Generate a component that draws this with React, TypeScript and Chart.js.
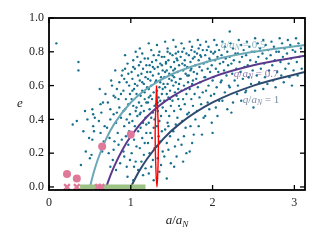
import React, { useEffect, useRef } from "react";
import { Chart, registerables } from "chart.js";

Chart.register(...registerables);

// ---------- data ----------
const xTicks = [0, 1, 2, 3];
const yTicks = [0, 0.2, 0.4, 0.6, 0.8, 1.0];
const xTickLabels = ["0", "1", "2", "3"];
const yTickLabels = ["0.0", "0.2", "0.4", "0.6", "0.8", "1.0"];

const sampleAE: number[][] = [
  [0.09,0.85],[0.36,0.74],[0.36,0.69],[0.29,0.37],[0.34,0.39],[0.39,0.13],
  [0.42,0.33],[0.47,0.40],[0.45,0.21],[0.49,0.29],[0.44,0.45],
  [0.50,0.17],[0.52,0.19],[0.53,0.28],[0.55,0.33],[0.54,0.36],[0.53,0.46],[0.54,0.43],[0.56,0.41],
  [0.63,0.49],[0.66,0.50],[0.63,0.32],[0.65,0.21],[0.69,0.55],[0.61,0.39],[0.67,0.27],[0.62,0.58],[0.68,0.36],[0.64,0.44],
  [0.75,0.12],[0.78,0.16],[0.79,0.54],[0.75,0.46],[0.79,0.43],[0.75,0.40],[0.74,0.29],[0.80,0.27],[0.79,0.22],[0.72,0.50],[0.77,0.60],[0.71,0.35],[0.76,0.63],[0.73,0.20],
  [0.81,0.69],[0.90,0.69],[0.89,0.66],[0.81,0.53],[0.85,0.52],[0.89,0.28],[0.87,0.14],[0.91,0.21],[0.83,0.58],[0.86,0.47],[0.82,0.38],[0.88,0.41],[0.84,0.32],[0.86,0.62],[0.83,0.44],[0.88,0.55],[0.85,0.25],[0.82,0.10],
  [0.97,0.25],[0.99,0.16],[0.95,0.12],[0.93,0.78],[0.96,0.73],[0.92,0.64],[0.98,0.60],[0.91,0.57],[0.94,0.52],[0.97,0.49],[0.93,0.46],[0.99,0.43],[0.95,0.40],[0.92,0.36],[0.98,0.33],[0.94,0.30],[0.96,0.06],[0.91,0.45],[0.97,0.67],[0.99,0.55],[0.93,0.70],[0.95,0.62],[0.98,0.38],[0.92,0.18],
  [1.03,0.71],[1.03,0.75],[1.01,0.68],[1.06,0.80],[1.08,0.77],[1.02,0.64],[1.05,0.61],[1.09,0.66],[1.04,0.58],[1.07,0.55],[1.01,0.52],[1.10,0.50],[1.03,0.48],[1.06,0.45],[1.08,0.42],[1.02,0.39],[1.05,0.36],[1.09,0.33],[1.04,0.28],[1.07,0.24],[1.01,0.20],[1.06,0.15],[1.09,0.10],[1.03,0.04],[1.08,0.60],[1.05,0.70],[1.10,0.72],[1.02,0.57],[1.07,0.47],[1.04,0.12],
  [1.11,0.82],[1.14,0.79],[1.17,0.76],[1.12,0.74],[1.19,0.72],[1.15,0.70],[1.13,0.67],[1.18,0.65],[1.11,0.63],[1.16,0.61],[1.20,0.59],[1.14,0.57],[1.12,0.54],[1.17,0.52],[1.19,0.50],[1.13,0.48],[1.16,0.45],[1.11,0.43],[1.18,0.41],[1.15,0.38],[1.12,0.35],[1.19,0.32],[1.14,0.29],[1.17,0.26],[1.11,0.23],[1.16,0.19],[1.13,0.15],[1.18,0.11],[1.15,0.07],[1.20,0.68],[1.14,0.62],[1.17,0.56],[1.12,0.44],[1.19,0.37],
  [1.22,0.85],[1.25,0.81],[1.28,0.78],[1.21,0.76],[1.26,0.74],[1.23,0.72],[1.29,0.70],[1.24,0.68],[1.27,0.66],[1.21,0.64],[1.30,0.62],[1.25,0.60],[1.22,0.58],[1.28,0.56],[1.24,0.54],[1.26,0.52],[1.21,0.50],[1.29,0.48],[1.23,0.46],[1.27,0.44],[1.25,0.41],[1.22,0.38],[1.28,0.35],[1.24,0.32],[1.26,0.29],[1.21,0.26],[1.29,0.23],[1.23,0.20],[1.27,0.16],[1.25,0.12],[1.22,0.08],[1.28,0.04],[1.24,0.63],[1.27,0.71],[1.22,0.53],[1.29,0.40],
  [1.32,0.84],[1.35,0.80],[1.38,0.77],[1.31,0.75],[1.36,0.73],[1.33,0.71],[1.39,0.69],[1.34,0.67],[1.37,0.65],[1.31,0.63],[1.40,0.61],[1.35,0.59],[1.32,0.57],[1.38,0.55],[1.34,0.53],[1.36,0.51],[1.31,0.49],[1.39,0.47],[1.33,0.45],[1.37,0.42],[1.35,0.39],[1.32,0.36],[1.38,0.33],[1.34,0.30],[1.36,0.27],[1.31,0.24],[1.39,0.21],[1.33,0.17],[1.37,0.13],[1.35,0.09],[1.32,0.05],[1.38,0.72],[1.34,0.78],[1.36,0.62],[1.33,0.50],[1.39,0.58],
  [1.42,0.86],[1.45,0.82],[1.48,0.79],[1.41,0.77],[1.46,0.75],[1.43,0.73],[1.49,0.71],[1.44,0.69],[1.47,0.67],[1.41,0.65],[1.50,0.63],[1.45,0.61],[1.42,0.59],[1.48,0.57],[1.44,0.55],[1.46,0.53],[1.41,0.51],[1.49,0.48],[1.43,0.45],[1.47,0.42],[1.45,0.38],[1.42,0.34],[1.48,0.30],[1.44,0.26],[1.46,0.22],[1.41,0.18],[1.49,0.14],[1.44,0.05],[1.43,0.74],[1.47,0.64],[1.42,0.68],[1.48,0.52],[1.45,0.80],[1.46,0.36],
  [1.52,0.87],[1.55,0.83],[1.58,0.80],[1.51,0.78],[1.56,0.76],[1.53,0.74],[1.59,0.72],[1.54,0.70],[1.57,0.68],[1.51,0.66],[1.60,0.64],[1.55,0.62],[1.52,0.60],[1.58,0.58],[1.54,0.56],[1.56,0.54],[1.51,0.51],[1.59,0.48],[1.53,0.45],[1.57,0.41],[1.55,0.37],[1.52,0.33],[1.58,0.28],[1.54,0.24],[1.56,0.18],[1.53,0.12],[1.57,0.75],[1.52,0.69],[1.59,0.61],[1.55,0.79],[1.53,0.65],[1.58,0.52],
  [1.62,0.85],[1.65,0.82],[1.68,0.79],[1.61,0.77],[1.66,0.75],[1.63,0.73],[1.69,0.71],[1.64,0.69],[1.67,0.67],[1.61,0.64],[1.70,0.62],[1.65,0.60],[1.62,0.57],[1.68,0.55],[1.64,0.52],[1.66,0.49],[1.61,0.46],[1.69,0.43],[1.63,0.39],[1.67,0.35],[1.65,0.30],[1.62,0.25],[1.68,0.20],[1.64,0.15],[1.66,0.72],[1.63,0.80],[1.69,0.66],[1.67,0.58],
  [1.72,0.86],[1.75,0.83],[1.78,0.80],[1.71,0.78],[1.76,0.76],[1.73,0.74],[1.79,0.72],[1.74,0.70],[1.77,0.68],[1.71,0.66],[1.80,0.64],[1.75,0.61],[1.72,0.58],[1.78,0.55],[1.74,0.52],[1.76,0.48],[1.71,0.44],[1.79,0.40],[1.73,0.36],[1.77,0.31],[1.75,0.26],[1.72,0.21],[1.78,0.77],[1.74,0.81],[1.76,0.63],[1.73,0.69],
  [1.82,0.87],[1.85,0.84],[1.88,0.81],[1.81,0.79],[1.86,0.77],[1.83,0.75],[1.89,0.73],[1.84,0.71],[1.87,0.69],[1.81,0.67],[1.90,0.65],[1.85,0.62],[1.82,0.59],[1.88,0.56],[1.84,0.53],[1.86,0.49],[1.81,0.45],[1.89,0.41],[1.83,0.36],[1.87,0.31],[1.85,0.78],[1.83,0.82],
  [1.92,0.86],[1.95,0.83],[1.98,0.80],[1.91,0.78],[1.96,0.76],[1.93,0.74],[1.99,0.72],[1.94,0.70],[1.97,0.68],[1.91,0.65],[2.00,0.63],[1.95,0.60],[1.92,0.57],[1.98,0.54],[1.94,0.50],[1.96,0.46],[1.91,0.42],[1.99,0.38],[1.93,0.81],[1.97,0.75],[2.00,0.32],
  [2.02,0.87],[2.05,0.84],[2.08,0.81],[2.01,0.79],[2.06,0.77],[2.03,0.75],[2.09,0.73],[2.04,0.70],[2.07,0.68],[2.01,0.65],[2.10,0.62],[2.05,0.59],[2.02,0.55],[2.08,0.51],[2.04,0.47],[2.06,0.42],[2.03,0.80],
  [2.12,0.86],[2.15,0.83],[2.18,0.80],[2.11,0.78],[2.16,0.76],[2.13,0.74],[2.19,0.72],[2.14,0.69],[2.17,0.66],[2.11,0.63],[2.20,0.60],[2.15,0.56],[2.12,0.51],[2.18,0.46],[2.21,0.92],
  [2.22,0.85],[2.25,0.82],[2.28,0.79],[2.21,0.77],[2.26,0.75],[2.23,0.73],[2.29,0.70],[2.24,0.67],[2.27,0.63],[2.21,0.59],[2.30,0.55],[2.25,0.50],[2.23,0.44],
  [2.32,0.87],[2.35,0.84],[2.38,0.81],[2.31,0.79],[2.36,0.77],[2.33,0.74],[2.39,0.71],[2.34,0.68],[2.37,0.64],[2.31,0.60],[2.40,0.56],[2.35,0.51],
  [2.42,0.86],[2.45,0.83],[2.48,0.80],[2.41,0.78],[2.46,0.75],[2.43,0.72],[2.49,0.69],[2.44,0.65],[2.47,0.61],[2.41,0.57],[2.50,0.47],
  [2.52,0.88],[2.55,0.85],[2.58,0.82],[2.51,0.80],[2.56,0.77],[2.53,0.74],[2.59,0.70],[2.54,0.66],[2.57,0.62],[2.52,0.57],
  [2.62,0.87],[2.65,0.84],[2.68,0.81],[2.61,0.79],[2.66,0.76],[2.63,0.73],[2.69,0.69],[2.64,0.65],[2.67,0.61],[2.62,0.58],
  [2.72,0.86],[2.75,0.83],[2.78,0.80],[2.71,0.78],[2.76,0.75],[2.73,0.72],[2.79,0.68],[2.74,0.63],[2.77,0.59],
  [2.82,0.88],[2.85,0.85],[2.88,0.82],[2.81,0.80],[2.86,0.77],[2.83,0.74],[2.89,0.70],[2.84,0.66],[2.87,0.62],
  [2.92,0.87],[2.95,0.84],[2.98,0.81],[2.91,0.79],[2.96,0.76],[2.93,0.73],[2.99,0.69],[2.94,0.65],[2.97,0.60],
  [3.02,0.88],[3.05,0.85],[3.08,0.82],[3.01,0.80],[3.06,0.77],[3.03,0.74],[3.09,0.70],[3.04,0.66],
];

// curves q/a_N = 0.5, 0.7, 1
const curveQ05: number[][] = [[0.5,0],[0.55,0.091],[0.6,0.167],[0.7,0.286],[0.8,0.375],[1.0,0.5],[1.2,0.583],[1.5,0.667],[2.0,0.75],[2.5,0.8],[3.13,0.84]];
const curveQ07: number[][] = [[0.7,0],[0.75,0.067],[0.8,0.125],[0.9,0.222],[1.0,0.3],[1.2,0.417],[1.5,0.533],[2.0,0.65],[2.5,0.72],[3.13,0.776]];
const curveQ10: number[][] = [[1.0,0],[1.1,0.091],[1.2,0.167],[1.4,0.286],[1.6,0.375],[2.0,0.5],[2.5,0.6],[3.13,0.681]];

const pinkDots: number[][] = [[0.22,0.077],[0.34,0.05],[0.65,0.24],[1.0,0.31]];
const pinkCrosses: number[][] = [[0.22,0.0],[0.34,0.0],[0.60,0.0],[0.64,0.0]];
const greenBar: number[][] = [[0.38,0.0],[1.18,0.0]];
const redShape: number[][] = [[1.315,0.60],[1.298,0.30],[1.32,0.0],[1.338,0.30],[1.315,0.60]];

const curveLabels = [
  { a: 2.10, e: 0.84, q: "0.5", color: "rgba(120,170,185,0.85)" },
  { a: 2.26, e: 0.669, q: "0.7", color: "rgba(110,80,155,0.8)" },
  { a: 2.37, e: 0.515, q: "1", color: "rgba(90,110,140,0.8)" },
];

const toXY = (arr: number[][]) => arr.map(([x, y]) => ({ x, y }));

const SERIF = "'Liberation Serif', 'DejaVu Serif', serif";

function drawMath(ctx: CanvasRenderingContext2D, x: number, y: number, parts: { t: string; it?: boolean; sub?: boolean }[], size: number, align: "left" | "center") {
  const fontFor = (p: any) => `${p.it ? "italic " : ""}${p.sub ? size * 0.7 : size}px ${SERIF}`;
  let total = 0;
  parts.forEach((p) => { ctx.font = fontFor(p); total += ctx.measureText(p.t).width; });
  let cx = align === "center" ? x - total / 2 : x;
  ctx.textBaseline = "middle";
  ctx.textAlign = "left";
  parts.forEach((p) => {
    ctx.font = fontFor(p);
    ctx.fillText(p.t, cx, p.sub ? y + size * 0.3 : y);
    cx += ctx.measureText(p.t).width;
  });
}

const framePlugin = {
  id: "frame",
  afterDraw(chart: any) {
    const { ctx, chartArea, scales } = chart;
    const { left, right, top, bottom } = chartArea;
    const x = scales.x, y = scales.y;
    ctx.save();
    ctx.strokeStyle = "#000";
    ctx.lineWidth = 1.3;
    const line = (x1: number, y1: number, x2: number, y2: number) => { ctx.beginPath(); ctx.moveTo(x1, y1); ctx.lineTo(x2, y2); ctx.stroke(); };
    xTicks.forEach((v) => { const px = x.getPixelForValue(v); line(px, bottom, px, bottom - 5); line(px, top, px, top + 5); });
    yTicks.forEach((v) => { const py = y.getPixelForValue(v); line(left, py, left + 5, py); line(right, py, right - 5, py); });
    ctx.lineWidth = 1.8;
    ctx.strokeRect(left, top, right - left, bottom - top);
    // axis titles
    ctx.fillStyle = "#222";
    drawMath(ctx, (left + right) / 2, 221, [{ t: "a", it: true }, { t: "/" }, { t: "a", it: true }, { t: "N", it: true, sub: true }], 13, "center");
    drawMath(ctx, 20, (top + bottom) / 2, [{ t: "e", it: true }], 13, "center");
    ctx.restore();
  },
  afterDatasetsDraw(chart: any) {
    const { ctx, scales } = chart;
    ctx.save();
    curveLabels.forEach((l) => {
      ctx.fillStyle = l.color;
      drawMath(ctx, scales.x.getPixelForValue(l.a), scales.y.getPixelForValue(l.e),
        [{ t: "q", it: true }, { t: "/" }, { t: "a", it: true }, { t: "N", it: true, sub: true }, { t: " = " + l.q }], 11, "left");
    });
    ctx.restore();
  },
};

export default function App() {
  const ref = useRef<HTMLCanvasElement>(null);
  useEffect(() => {
    if (!ref.current) return;
    const chart = new Chart(ref.current, {
      type: "scatter",
      data: {
        datasets: [
          { data: toXY(pinkDots), backgroundColor: "#e0789a", borderWidth: 0, pointRadius: 4, order: 0, clip: false } as any,
          { data: toXY(pinkCrosses), pointStyle: "crossRot", borderColor: "#e0789a", backgroundColor: "#e0789a", borderWidth: 2.4, pointRadius: 4, order: 1, clip: false } as any,
          { data: toXY(greenBar), showLine: true, borderColor: "#9dc286", borderWidth: 5, pointRadius: 0, order: 2, clip: false } as any,
          { data: toXY(redShape), showLine: true, borderColor: "#ff0000", borderWidth: 1.4, pointRadius: 0, tension: 0.35, order: 3 } as any,
          { data: toXY(curveQ10), showLine: true, borderColor: "#2f4a6e", borderWidth: 2, pointRadius: 0, cubicInterpolationMode: "monotone", order: 4 } as any,
          { data: toXY(curveQ07), showLine: true, borderColor: "#5b3a8c", borderWidth: 2, pointRadius: 0, cubicInterpolationMode: "monotone", order: 5 } as any,
          { data: toXY(curveQ05), showLine: true, borderColor: "#6ba8b6", borderWidth: 2, pointRadius: 0, cubicInterpolationMode: "monotone", order: 6 } as any,
          { data: toXY(sampleAE), backgroundColor: "#17708e", borderWidth: 0, pointRadius: 1.2, order: 10 } as any,
        ],
      },
      options: {
        responsive: false,
        animation: false,
        layout: { padding: { left: 0, right: 15, top: 18, bottom: 0 } },
        plugins: { legend: { display: false }, tooltip: { enabled: false } },
        scales: {
          x: {
            type: "linear", min: 0, max: 3.13,
            grid: { display: false, drawTicks: false },
            border: { display: false },
            afterBuildTicks: (s: any) => { s.ticks = xTicks.map((v) => ({ value: v })); },
            afterFit: (s: any) => { s.height = 50; },
            ticks: { color: "#222", padding: 6, font: { family: SERIF, size: 12 }, callback: (v: any) => xTickLabels[xTicks.indexOf(Number(v))] ?? "" },
          },
          y: {
            type: "linear", min: -0.018, max: 1.0,
            grid: { display: false, drawTicks: false },
            border: { display: false },
            afterBuildTicks: (s: any) => { s.ticks = yTicks.map((v) => ({ value: v })); },
            afterFit: (s: any) => { s.width = 49; },
            ticks: { color: "#222", padding: 5, font: { family: SERIF, size: 12 }, callback: (v: any) => { const i = yTicks.findIndex((t) => Math.abs(t - Number(v)) < 1e-6); return i >= 0 ? yTickLabels[i] : ""; } },
          },
        },
      },
      plugins: [framePlugin],
    } as any);
    return () => chart.destroy();
  }, []);
  return (
    <div style={{ position: "absolute", left: 0, top: 0, width: 320, height: 240, background: "#fff" }}>
      <canvas ref={ref} width={320} height={240} style={{ width: 320, height: 240 }} />
    </div>
  );
}
